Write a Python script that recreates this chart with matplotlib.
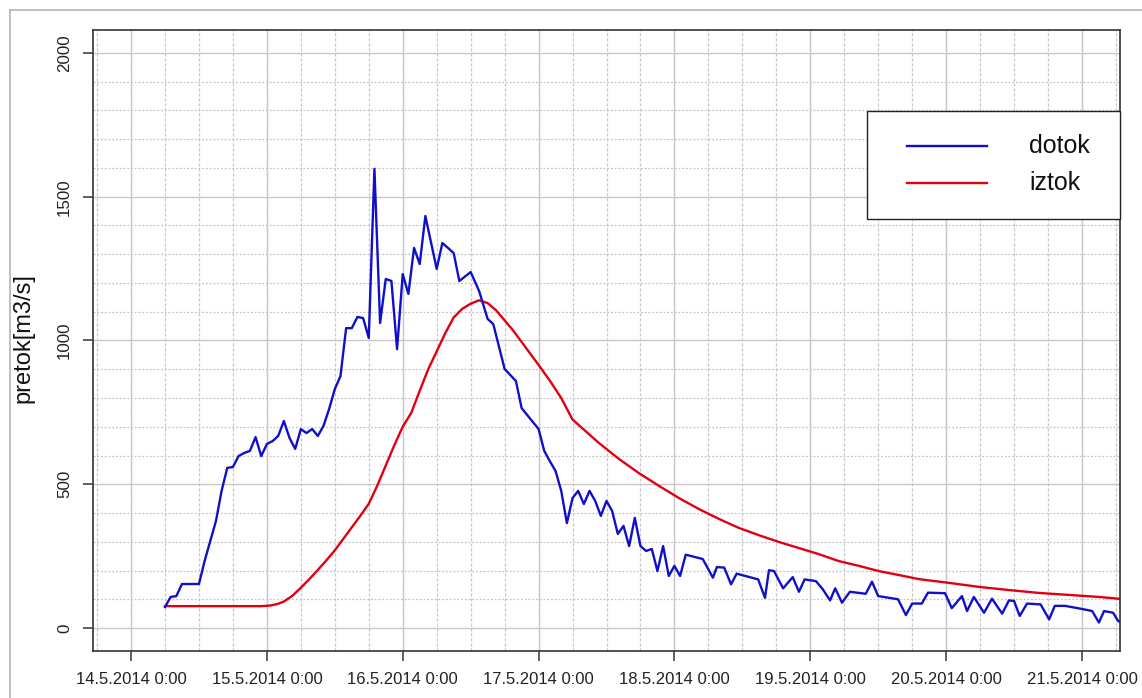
import numpy as np
import matplotlib
matplotlib.use("Agg")
import matplotlib.pyplot as plt
from matplotlib.lines import Line2D
from matplotlib.patches import Rectangle
from datetime import datetime, timedelta

# ---------------- data ----------------
start_time = datetime(2014, 5, 14, 0, 0)

# dotok (inflow): hours since 14.5.2014 0:00, m3/s
dotok_hours = [6, 7, 8, 9, 12, 13, 15, 16, 17, 18, 19, 20, 21, 22, 23, 24, 25, 26,
               27, 28, 29, 30, 31, 32, 33, 34, 35, 36, 37, 38, 39, 40, 41, 42, 43,
               44, 45, 46, 47, 48, 49, 50, 51, 52, 54, 55, 56, 57, 58, 60, 61.5, 63,
               64, 66, 68, 69, 72, 73, 74, 75, 76, 77, 78, 79, 80, 81, 82, 83, 84,
               85, 86, 87, 88, 89, 90, 91, 92, 93, 94, 95, 96, 97, 98, 100, 101,
               102.8, 103.5, 104.8, 106, 107, 110.8, 112, 112.7, 113.6, 115.2, 116.9,
               118, 119, 121, 122.2, 123.5, 124.4, 125.6, 127, 129.8, 130.9, 132,
               135.5, 136.9, 138, 139.7, 140.8, 143.8, 145, 146.8, 147.7, 148.9,
               150.7, 152.1, 153.9, 155.1, 156, 157, 158.3, 160.7, 162.2, 163.2,
               165, 167.8, 169.8, 171, 171.9, 173.5, 174.4, 175.5]
dotok_values = [73, 108, 111, 153, 153, 233, 372, 477, 557, 560, 598, 609, 616, 664,
                598, 640, 650, 668, 720, 661, 623, 692, 678, 692, 668, 703, 762, 831,
                876, 1043, 1043, 1082, 1078, 1009, 1597, 1061, 1214, 1207, 970, 1231,
                1162, 1322, 1266, 1433, 1249, 1339, 1322, 1304, 1207, 1238, 1172,
                1075, 1057, 901, 859, 765, 692, 616, 580, 546, 477, 365, 452, 477,
                431, 477, 442, 390, 442, 407, 327, 355, 285, 383, 285, 268, 275, 198,
                285, 181, 216, 181, 255, 245, 240, 175, 212, 210, 152, 189, 169, 105,
                201, 198, 138, 177, 126, 169, 163, 135, 96, 138, 88, 126, 119, 161,
                111, 100, 45, 85, 85, 123, 121, 69, 111, 59, 108, 53, 102, 50, 96,
                94, 42, 85, 82, 30, 77, 77, 67, 59, 19, 59, 53, 24, 15]

# iztok (outflow)
iztok_hours = [6, 23, 24.5, 25.8, 27, 28.5, 30, 31.5, 33, 34.5, 36, 37.5, 39, 40.5,
               42, 43.5, 45, 46.5, 48, 49.5, 51, 52.5, 54, 55.5, 57, 58.5, 60, 61.5,
               63, 64.5, 66, 67.5, 69, 70.5, 72, 74, 76, 78, 80, 82.7, 86.2, 89.7,
               93.3, 96.8, 100.3, 103.9, 107.4, 110.9, 114.5, 118, 121.5, 125,
               128.6, 132.1, 135.7, 139.2, 144.5, 149.8, 155.1, 160.4, 165.7, 171,
               175.5]
iztok_values = [76, 76, 78, 83, 92, 112, 140, 170, 202, 235, 270, 310, 350, 390,
                432, 495, 565, 635, 700, 748, 825, 900, 962, 1025, 1080, 1110, 1128,
                1140, 1130, 1105, 1070, 1035, 995, 955, 915, 860, 800, 725, 690, 643,
                588, 539, 494, 452, 414, 379, 348, 323, 299, 278, 257, 233, 216,
                198, 184, 170, 157, 143, 132, 122, 115, 108, 100]

series_labels = ["dotok", "iztok"]
y_label = "pretok[m3/s]"
y_ticks = [0, 500, 1000, 1500, 2000]
x_tick_days = [14, 15, 16, 17, 18, 19, 20, 21]

# ---------------- plot ----------------
plt.rcParams["font.family"] = ["Liberation Sans", "DejaVu Sans"]

W, H = 1142, 698
fig = plt.figure(figsize=(W / 100, H / 100), dpi=100)
ax = fig.add_axes([93 / W, 1 - 651 / H, (1120 - 93) / W, (651 - 30) / H])

def fx(px):
    return px / W

def fy(py):
    return 1 - py / H

t_dotok = [start_time + timedelta(hours=h) for h in dotok_hours]
t_iztok = [start_time + timedelta(hours=h) for h in iztok_hours]

blue = "#1010c8"
red = "#e00010"

# grid
x_major = [datetime(2014, 5, d) for d in x_tick_days]
x_minor = [datetime(2014, 5, 14) + timedelta(hours=6 * k) for k in range(-2, 32)]
for t in x_minor:
    ax.axvline(t, color="#c8c8c8", lw=0.9, ls=(0, (2.5, 1.5)), zorder=0)
for t in x_major:
    ax.axvline(t, color="#c8c8c8", lw=1.0, ls="-", zorder=0)
for v in range(-100, 2101, 100):
    if v % 500:
        ax.axhline(v, color="#c4c4c4", lw=0.9, ls=(0, (1.5, 1.5)), zorder=0)
for v in y_ticks:
    ax.axhline(v, color="#c8c8c8", lw=1.0, ls="-", zorder=0)

ax.plot(t_dotok, dotok_values, color=blue, lw=1.7, zorder=3)
ax.plot(t_iztok, iztok_values, color=red, lw=1.7, zorder=2)

x0 = datetime(2014, 5, 14) - timedelta(days=0.28)
x1 = datetime(2014, 5, 21) + timedelta(days=0.28)
ax.set_xlim(x0, x1)
ax.set_ylim(-80, 2080)

ax.set_xticks(x_major)
ax.set_xticklabels([f"{t.day}.{t.month}.{t.year} 0:00" for t in x_major], fontsize=12,
                   color="#222222")
ax.set_yticks(y_ticks)
ax.set_yticklabels([str(v) for v in y_ticks], fontsize=12.2, rotation=90,
                   va="center", color="#222222")
ax.tick_params(axis="both", length=7, width=1.1, color="#333333", direction="out")
ax.tick_params(axis="x", pad=8)
ax.tick_params(axis="y", pad=8)

for s in ax.spines.values():
    s.set_color("#333333")
    s.set_linewidth(1.2)

fig.text(fx(23), fy(338), y_label, rotation=90, fontsize=17, ha="center",
         va="center", color="#111111")

# legend box (drawn like R's legend)
fig.add_artist(Rectangle((fx(867), fy(219)), fx(1120) - fx(867), fy(111) - fy(219),
                         transform=fig.transFigure, facecolor="white",
                         edgecolor="#222222", lw=1.0, zorder=5))
for label, col, ypx in zip(series_labels, [blue, red], [146, 183]):
    fig.add_artist(Line2D([fx(907), fx(987)], [fy(ypx), fy(ypx)], color=col, lw=1.7,
                          transform=fig.transFigure, zorder=6))
    fig.text(fx(1029), fy(ypx), label, fontsize=18, ha="left", va="center",
             color="#111111", zorder=6)

# outer frame of the image
fig.add_artist(Line2D([9.5 / W, 1], [1 - 9.5 / H, 1 - 9.5 / H], color="#b4b4b4", lw=1.2))
fig.add_artist(Line2D([9.5 / W, 9.5 / W], [0, 1 - 9.5 / H], color="#b4b4b4", lw=1.2))

fig.savefig("out.png", dpi=100)
